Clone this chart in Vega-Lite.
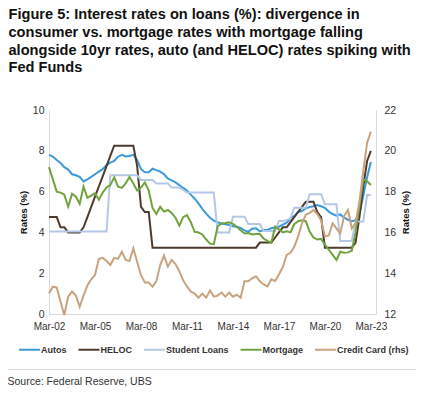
{
  "$schema": "https://vega.github.io/schema/vega-lite/v6.json",
  "padding": {"left": 7, "top": 7, "right": 0, "bottom": 0},
  "config": {"font": "Liberation Sans", "view": {"stroke": null}},
  "title": {
    "text": ["Figure 5: Interest rates on loans (%): divergence in", "consumer vs. mortgage rates with mortgage falling", "alongside 10yr rates, auto (and HELOC) rates spiking with", "Fed Funds"],
    "anchor": "start", "fontSize": 14.6, "fontWeight": "bold", "lineHeight": 17.7, "color": "#111111", "offset": 30, "dx": 1
  },
  "datasets": {
    "rates": [
      {"d": "2002-03-01", "Autos": 7.8, "HELOC": 4.75, "Student Loans": 4.05, "Mortgage": 7.2, "Card": 13.0},
      {"d": "2002-06-01", "Autos": 7.72, "HELOC": 4.75, "Student Loans": 4.05, "Mortgage": 6.6, "Card": 13.34},
      {"d": "2002-09-01", "Autos": 7.55, "HELOC": 4.75, "Student Loans": 4.05, "Mortgage": 6.0, "Card": 13.3},
      {"d": "2002-12-01", "Autos": 7.4, "HELOC": 4.25, "Student Loans": 4.05, "Mortgage": 5.95, "Card": 12.6},
      {"d": "2003-03-01", "Autos": 7.2, "HELOC": 4.25, "Student Loans": 4.05, "Mortgage": 5.85, "Card": 11.95},
      {"d": "2003-06-01", "Autos": 7.08, "HELOC": 4.0, "Student Loans": 4.05, "Mortgage": 5.26, "Card": 12.85},
      {"d": "2003-09-01", "Autos": 6.85, "HELOC": 4.0, "Student Loans": 4.05, "Mortgage": 5.9, "Card": 13.1},
      {"d": "2003-12-01", "Autos": 6.8, "HELOC": 4.0, "Student Loans": 4.05, "Mortgage": 5.75, "Card": 12.9},
      {"d": "2004-03-01", "Autos": 6.72, "HELOC": 4.0, "Student Loans": 4.05, "Mortgage": 5.4, "Card": 12.36},
      {"d": "2004-06-01", "Autos": 6.5, "HELOC": 4.25, "Student Loans": 4.05, "Mortgage": 6.24, "Card": 12.9},
      {"d": "2004-09-01", "Autos": 6.6, "HELOC": 4.75, "Student Loans": 4.05, "Mortgage": 5.7, "Card": 13.4},
      {"d": "2004-12-01", "Autos": 6.72, "HELOC": 5.25, "Student Loans": 4.05, "Mortgage": 5.8, "Card": 13.7},
      {"d": "2005-03-01", "Autos": 6.85, "HELOC": 5.75, "Student Loans": 4.05, "Mortgage": 5.92, "Card": 13.91},
      {"d": "2005-06-01", "Autos": 6.98, "HELOC": 6.25, "Student Loans": 4.05, "Mortgage": 5.6, "Card": 14.7},
      {"d": "2005-09-01", "Autos": 7.1, "HELOC": 6.75, "Student Loans": 4.05, "Mortgage": 5.95, "Card": 14.75},
      {"d": "2005-12-01", "Autos": 7.3, "HELOC": 7.25, "Student Loans": 4.05, "Mortgage": 6.2, "Card": 14.6},
      {"d": "2006-03-01", "Autos": 7.42, "HELOC": 7.75, "Student Loans": 6.8, "Mortgage": 6.32, "Card": 14.4},
      {"d": "2006-06-01", "Autos": 7.5, "HELOC": 8.25, "Student Loans": 6.8, "Mortgage": 6.7, "Card": 14.75},
      {"d": "2006-09-01", "Autos": 7.71, "HELOC": 8.25, "Student Loans": 6.8, "Mortgage": 6.24, "Card": 14.7},
      {"d": "2006-12-01", "Autos": 7.8, "HELOC": 8.25, "Student Loans": 6.8, "Mortgage": 6.18, "Card": 15.05},
      {"d": "2007-03-01", "Autos": 7.72, "HELOC": 8.25, "Student Loans": 6.8, "Mortgage": 6.4, "Card": 14.65},
      {"d": "2007-06-01", "Autos": 7.75, "HELOC": 8.25, "Student Loans": 6.8, "Mortgage": 6.72, "Card": 14.6},
      {"d": "2007-09-01", "Autos": 7.8, "HELOC": 8.25, "Student Loans": 6.8, "Mortgage": 6.4, "Card": 15.22},
      {"d": "2007-12-01", "Autos": 7.55, "HELOC": 7.25, "Student Loans": 6.8, "Mortgage": 6.05, "Card": 14.55},
      {"d": "2008-03-01", "Autos": 7.1, "HELOC": 5.25, "Student Loans": 6.57, "Mortgage": 6.2, "Card": 13.9},
      {"d": "2008-06-01", "Autos": 6.95, "HELOC": 5.0, "Student Loans": 6.57, "Mortgage": 6.45, "Card": 13.55},
      {"d": "2008-09-01", "Autos": 6.95, "HELOC": 5.0, "Student Loans": 6.57, "Mortgage": 6.05, "Card": 13.55},
      {"d": "2008-12-01", "Autos": 7.12, "HELOC": 3.25, "Student Loans": 6.57, "Mortgage": 5.2, "Card": 13.34},
      {"d": "2009-03-01", "Autos": 7.05, "HELOC": 3.25, "Student Loans": 6.4, "Mortgage": 4.9, "Card": 13.6},
      {"d": "2009-06-01", "Autos": 6.98, "HELOC": 3.25, "Student Loans": 6.4, "Mortgage": 5.25, "Card": 14.4},
      {"d": "2009-09-01", "Autos": 6.85, "HELOC": 3.25, "Student Loans": 6.4, "Mortgage": 5.02, "Card": 14.86},
      {"d": "2009-12-01", "Autos": 6.65, "HELOC": 3.25, "Student Loans": 6.4, "Mortgage": 5.1, "Card": 14.32},
      {"d": "2010-03-01", "Autos": 6.55, "HELOC": 3.25, "Student Loans": 6.2, "Mortgage": 4.95, "Card": 14.65},
      {"d": "2010-06-01", "Autos": 6.45, "HELOC": 3.25, "Student Loans": 6.2, "Mortgage": 4.72, "Card": 14.45},
      {"d": "2010-09-01", "Autos": 6.32, "HELOC": 3.25, "Student Loans": 6.2, "Mortgage": 4.33, "Card": 14.1},
      {"d": "2010-12-01", "Autos": 6.18, "HELOC": 3.25, "Student Loans": 6.08, "Mortgage": 4.75, "Card": 13.65},
      {"d": "2011-03-01", "Autos": 6.05, "HELOC": 3.25, "Student Loans": 5.95, "Mortgage": 4.85, "Card": 13.35},
      {"d": "2011-06-01", "Autos": 5.85, "HELOC": 3.25, "Student Loans": 5.95, "Mortgage": 4.5, "Card": 13.1},
      {"d": "2011-09-01", "Autos": 5.65, "HELOC": 3.25, "Student Loans": 5.95, "Mortgage": 4.03, "Card": 13.0},
      {"d": "2011-12-01", "Autos": 5.42, "HELOC": 3.25, "Student Loans": 5.95, "Mortgage": 4.0, "Card": 12.8},
      {"d": "2012-03-01", "Autos": 5.15, "HELOC": 3.25, "Student Loans": 5.95, "Mortgage": 3.9, "Card": 13.0},
      {"d": "2012-06-01", "Autos": 4.92, "HELOC": 3.25, "Student Loans": 5.95, "Mortgage": 3.65, "Card": 12.8},
      {"d": "2012-09-01", "Autos": 4.72, "HELOC": 3.25, "Student Loans": 5.95, "Mortgage": 3.45, "Card": 13.15},
      {"d": "2012-12-01", "Autos": 4.58, "HELOC": 3.25, "Student Loans": 5.95, "Mortgage": 3.42, "Card": 12.85},
      {"d": "2013-03-01", "Autos": 4.5, "HELOC": 3.25, "Student Loans": 4.0, "Mortgage": 4.3, "Card": 12.9},
      {"d": "2013-06-01", "Autos": 4.44, "HELOC": 3.25, "Student Loans": 4.0, "Mortgage": 4.44, "Card": 13.05},
      {"d": "2013-09-01", "Autos": 4.4, "HELOC": 3.25, "Student Loans": 4.0, "Mortgage": 4.46, "Card": 12.85},
      {"d": "2013-12-01", "Autos": 4.36, "HELOC": 3.25, "Student Loans": 4.0, "Mortgage": 4.49, "Card": 13.05},
      {"d": "2014-03-01", "Autos": 4.3, "HELOC": 3.25, "Student Loans": 4.77, "Mortgage": 4.42, "Card": 12.85},
      {"d": "2014-06-01", "Autos": 4.28, "HELOC": 3.25, "Student Loans": 4.77, "Mortgage": 4.28, "Card": 12.95},
      {"d": "2014-09-01", "Autos": 4.22, "HELOC": 3.25, "Student Loans": 4.77, "Mortgage": 4.1, "Card": 12.8},
      {"d": "2014-12-01", "Autos": 4.1, "HELOC": 3.25, "Student Loans": 4.77, "Mortgage": 3.95, "Card": 13.6},
      {"d": "2015-03-01", "Autos": 4.03, "HELOC": 3.25, "Student Loans": 4.41, "Mortgage": 3.97, "Card": 13.6},
      {"d": "2015-06-01", "Autos": 4.18, "HELOC": 3.25, "Student Loans": 4.41, "Mortgage": 3.9, "Card": 13.75},
      {"d": "2015-09-01", "Autos": 4.2, "HELOC": 3.25, "Student Loans": 4.41, "Mortgage": 3.92, "Card": 13.85},
      {"d": "2015-12-01", "Autos": 4.05, "HELOC": 3.5, "Student Loans": 4.41, "Mortgage": 3.92, "Card": 13.6},
      {"d": "2016-03-01", "Autos": 4.12, "HELOC": 3.5, "Student Loans": 4.07, "Mortgage": 3.7, "Card": 13.45},
      {"d": "2016-06-01", "Autos": 4.12, "HELOC": 3.5, "Student Loans": 4.07, "Mortgage": 3.58, "Card": 13.35},
      {"d": "2016-09-01", "Autos": 4.2, "HELOC": 3.5, "Student Loans": 4.07, "Mortgage": 3.5, "Card": 13.7},
      {"d": "2016-12-01", "Autos": 4.25, "HELOC": 3.75, "Student Loans": 4.07, "Mortgage": 4.28, "Card": 13.62},
      {"d": "2017-03-01", "Autos": 4.28, "HELOC": 4.0, "Student Loans": 4.56, "Mortgage": 4.15, "Card": 13.94},
      {"d": "2017-06-01", "Autos": 4.38, "HELOC": 4.25, "Student Loans": 4.56, "Mortgage": 4.0, "Card": 14.3},
      {"d": "2017-09-01", "Autos": 4.48, "HELOC": 4.25, "Student Loans": 4.6, "Mortgage": 4.05, "Card": 14.9},
      {"d": "2017-12-01", "Autos": 4.68, "HELOC": 4.5, "Student Loans": 4.69, "Mortgage": 4.0, "Card": 15.0},
      {"d": "2018-03-01", "Autos": 4.8, "HELOC": 4.75, "Student Loans": 5.21, "Mortgage": 4.4, "Card": 15.3},
      {"d": "2018-06-01", "Autos": 5.0, "HELOC": 5.0, "Student Loans": 5.21, "Mortgage": 4.55, "Card": 15.79},
      {"d": "2018-09-01", "Autos": 5.05, "HELOC": 5.25, "Student Loans": 5.21, "Mortgage": 4.6, "Card": 16.45},
      {"d": "2018-12-01", "Autos": 5.18, "HELOC": 5.5, "Student Loans": 5.21, "Mortgage": 4.55, "Card": 16.87},
      {"d": "2019-03-01", "Autos": 5.24, "HELOC": 5.5, "Student Loans": 5.87, "Mortgage": 4.05, "Card": 16.95},
      {"d": "2019-06-01", "Autos": 5.28, "HELOC": 5.5, "Student Loans": 5.87, "Mortgage": 3.75, "Card": 17.1},
      {"d": "2019-09-01", "Autos": 5.34, "HELOC": 5.0, "Student Loans": 5.87, "Mortgage": 3.65, "Card": 16.9},
      {"d": "2019-12-01", "Autos": 5.28, "HELOC": 4.75, "Student Loans": 5.87, "Mortgage": 3.68, "Card": 16.6},
      {"d": "2020-03-01", "Autos": 5.2, "HELOC": 3.25, "Student Loans": 5.38, "Mortgage": 3.4, "Card": 15.8},
      {"d": "2020-06-01", "Autos": 5.02, "HELOC": 3.25, "Student Loans": 5.38, "Mortgage": 3.15, "Card": 15.85},
      {"d": "2020-09-01", "Autos": 4.9, "HELOC": 3.25, "Student Loans": 5.38, "Mortgage": 2.9, "Card": 16.44},
      {"d": "2020-12-01", "Autos": 4.82, "HELOC": 3.25, "Student Loans": 5.38, "Mortgage": 2.65, "Card": 16.2},
      {"d": "2021-03-01", "Autos": 4.88, "HELOC": 3.25, "Student Loans": 3.58, "Mortgage": 3.05, "Card": 15.95},
      {"d": "2021-06-01", "Autos": 4.72, "HELOC": 3.25, "Student Loans": 3.58, "Mortgage": 3.0, "Card": 16.8},
      {"d": "2021-09-01", "Autos": 4.62, "HELOC": 3.25, "Student Loans": 3.58, "Mortgage": 3.02, "Card": 17.1},
      {"d": "2021-12-01", "Autos": 4.55, "HELOC": 3.25, "Student Loans": 3.58, "Mortgage": 3.1, "Card": 16.2},
      {"d": "2022-03-01", "Autos": 4.6, "HELOC": 3.5, "Student Loans": 4.53, "Mortgage": 4.0, "Card": 16.45},
      {"d": "2022-06-01", "Autos": 4.9, "HELOC": 4.75, "Student Loans": 4.53, "Mortgage": 5.3, "Card": 17.5},
      {"d": "2022-09-01", "Autos": 5.8, "HELOC": 6.25, "Student Loans": 4.53, "Mortgage": 6.6, "Card": 19.0},
      {"d": "2022-12-01", "Autos": 6.7, "HELOC": 7.5, "Student Loans": 5.83, "Mortgage": 6.5, "Card": 20.4},
      {"d": "2023-03-01", "Autos": 7.45, "HELOC": 8.0, "Student Loans": 5.83, "Mortgage": 6.32, "Card": 20.94}
    ]
  },
  "spacing": 38,
  "vconcat": [
    {
      "width": 327,
      "height": 204,
      "data": {"name": "rates"},
      "encoding": {
        "x": {
          "field": "d", "type": "temporal",
          "scale": {"type": "utc", "domain": [{"year": 2002, "month": 3, "date": 1, "utc": true}, {"year": 2023, "month": 7, "date": 1, "utc": true}]},
          "axis": {
            "title": null,
            "labelExpr": "utcFormat(datum.value, '%b-%y')",
            "values": [
              {"year": 2002, "month": 3, "date": 1, "utc": true},
              {"year": 2005, "month": 3, "date": 1, "utc": true},
              {"year": 2008, "month": 3, "date": 1, "utc": true},
              {"year": 2011, "month": 3, "date": 1, "utc": true},
              {"year": 2014, "month": 3, "date": 1, "utc": true},
              {"year": 2017, "month": 3, "date": 1, "utc": true},
              {"year": 2020, "month": 3, "date": 1, "utc": true},
              {"year": 2023, "month": 3, "date": 1, "utc": true}
            ],
            "grid": false, "ticks": false, "domainColor": "#d9d9d9", "domainWidth": 1,
            "labelFontSize": 10, "labelColor": "#333333", "labelPadding": 7, "labelFlush": false, "labelOverlap": false
          }
        }
      },
      "layer": [
        {
          "transform": [{"fold": ["Autos", "HELOC", "Student Loans", "Mortgage"], "as": ["series", "value"]}],
          "mark": {"type": "line", "strokeWidth": 2},
          "encoding": {
            "y": {
              "field": "value", "type": "quantitative",
              "scale": {"domain": [0, 10]},
              "axis": {
                "values": [0, 2, 4, 6, 8, 10], "grid": false, "ticks": false, "domainColor": "#d9d9d9",
                "labelFontSize": 10.5, "labelColor": "#333333", "labelPadding": 5,
                "title": "Rates (%)", "titleFontSize": 9.5, "titleFontWeight": "bold", "titleColor": "#111111", "titlePadding": 4
              }
            },
            "color": {
              "field": "series", "type": "nominal",
              "scale": {
                "domain": ["Autos", "HELOC", "Student Loans", "Mortgage", "Credit Card (rhs)"],
                "range": ["#3c9ad8", "#4e3b2e", "#b4c7e7", "#70a33e", "#c9a27e"]
              },
              "legend": {
                "title": null, "orient": "none", "direction": "horizontal", "legendX": -31, "legendY": 228,
                "symbolType": "stroke", "symbolSize": 441, "symbolStrokeWidth": 2,
                "labelFontSize": 9, "labelFontWeight": "bold", "labelColor": "#333333",
                "labelOffset": 0, "columnPadding": 7.5
              }
            }
          }
        },
        {
          "mark": {"type": "line", "strokeWidth": 2},
          "encoding": {
            "y": {
              "field": "Card", "type": "quantitative",
              "scale": {"domain": [12, 22]},
              "axis": {
                "orient": "right", "values": [12, 14, 16, 18, 20, 22], "grid": false, "ticks": false, "domainColor": "#d9d9d9",
                "labelFontSize": 10.5, "labelColor": "#333333", "labelPadding": 8,
                "title": "Rates (%)", "titleFontSize": 9.5, "titleFontWeight": "bold", "titleColor": "#111111",
                "titlePadding": 5, "titleAngle": 270, "titleBaseline": "top"
              }
            },
            "color": {"datum": "Credit Card (rhs)"}
          }
        }
      ],
      "resolve": {"scale": {"y": "independent"}}
    },
    {
      "width": 327,
      "height": 1,
      "data": {"values": [{}]},
      "mark": {"type": "rule", "color": "#d9d9d9", "strokeWidth": 1},
      "encoding": {
        "x": {"datum": 0, "type": "quantitative", "scale": {"domain": [0, 1], "range": [-41, 367]}, "axis": null},
        "x2": {"datum": 1}
      },
      "title": {"text": "Source: Federal Reserve, UBS", "orient": "bottom", "anchor": "start", "fontSize": 10.5, "fontWeight": "normal", "color": "#333333", "offset": 7}
    }
  ]
}
